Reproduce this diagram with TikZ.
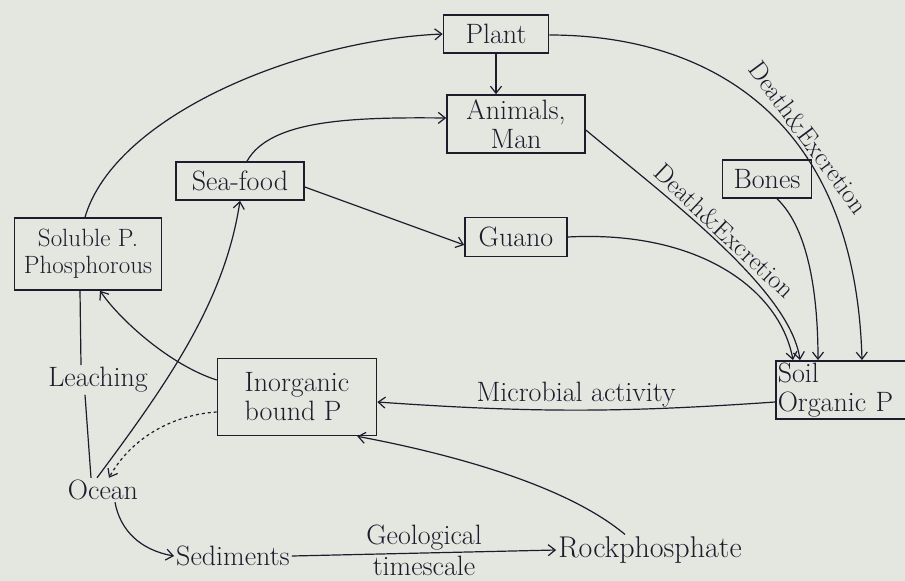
\documentclass[tikz,border=0pt]{standalone}
\usetikzlibrary{arrows.meta}
\definecolor{paper}{RGB}{228,230,224}
\definecolor{ink}{RGB}{28,28,44}
\begin{document}
\begin{tikzpicture}[x=1pt,y=-1pt,
    every node/.style={text=ink,font=\fontsize{28}{29}\selectfont},
    box/.style={draw=ink,line width=1.6pt,align=center,inner sep=3pt},
    free/.style={inner sep=2pt},
    flow/.style={draw=ink,line width=1.2pt,-{Straight Barb[length=7pt,width=11pt]}},
    slant/.style={sloped,above,inner sep=3pt,font=\fontsize{26}{27}\selectfont}]
  \fill[paper] (0,0) rectangle (905,581);
  \useasboundingbox (0,0) rectangle (905,581);
  % boxes
  \node[box,minimum width=105,minimum height=38] (plant) at (496,34) {Plant};
  \node[box,minimum width=138,minimum height=58] (animals) at (516,124) {Animals,\\Man};
  \node[box,minimum width=128,minimum height=38] (seafood) at (240,181) {Sea-food};
  \node[box,minimum width=89,minimum height=38] (bones) at (767,179) {Bones};
  \node[box,minimum width=102,minimum height=39] (guano) at (516,237) {Guano};
  \node[box,minimum width=147,minimum height=72,font=\fontsize{25}{27}\selectfont] (soluble) at (88,254) {Soluble P.\\Phosphorous};
  \node[box,minimum width=159,minimum height=77,align=left] (inorg) at (297,397) {Inorganic\\bound P};
  \node[box,anchor=west,text width=140,minimum height=56,align=left,inner sep=2pt] (soil) at (775,390) {Soil\\Organic P};
  % free labels
  \node[free] (leach) at (98,380) {Leaching};
  \node[free] (ocean) at (103,490) {Ocean};
  \node[free] (sed) at (233,556) {Sediments};
  \node[free,font=\fontsize{30}{31}\selectfont] (rock) at (650,550) {Rockphosphate};
  % flows
  \draw[flow] ([xshift=-3pt]soluble.north) .. controls (115,115) and (300,40) .. (plant.west);
  \draw[flow] ([xshift=7pt]seafood.north) .. controls (270,120) and (350,117) .. ([yshift=6pt]animals.west);
  \draw[flow] (plant.south) -- (plant.south |- animals.north);
  \draw[flow] ([yshift=-1pt]plant.east) .. controls (700,35) and (855,110) .. ([xshift=87pt]soil.north west)
    node[slant,pos=0.62]{Death\&Excretion};
  \draw[flow] ([yshift=-6pt]animals.east) .. controls (670,200) and (790,290) .. ([xshift=25pt]soil.north west)
    node[slant,pos=0.48]{Death\&Excretion};
  \draw[flow] ([xshift=10pt]bones.south) .. controls (810,230) and (818,300) .. ([xshift=43pt]soil.north west);
  \draw[flow] (guano.east) .. controls (700,230) and (780,290) .. ([xshift=18pt]soil.north west);
  \draw[flow] ([yshift=-6pt]seafood.east) -- ([yshift=-8pt]guano.west);
  \draw[flow] ([yshift=-12pt]soil.west) to[bend left=4] node[midway,above,free]{Microbial activity} ([yshift=-5pt]inorg.east);
  \draw[flow] ([yshift=17pt]inorg.west) .. controls (170,365) and (120,320) .. ([xshift=12pt]soluble.south);
  \draw[flow,dashed] ([yshift=-15pt]inorg.west) .. controls (170,415) and (130,440) .. ([xshift=6pt]ocean.north);
  \draw[flow] ([xshift=-6pt]ocean.north) .. controls (170,380) and (225,300) .. (seafood.south);
  \draw[ink,line width=1.2pt] ([xshift=-8pt]soluble.south) -- ([xshift=-17pt]leach.north);
  \draw[ink,line width=1.2pt] ([xshift=-13pt]leach.south) -- ([xshift=-12pt]ocean.north);
  \draw[flow] ([xshift=12pt]ocean.south) .. controls (120,530) and (140,550) .. (sed.west);
  \draw[flow] (sed.east) -- (rock.west) node[midway,above,free]{Geological} node[midway,below,free]{timescale};
  \draw[flow] ([xshift=-25pt]rock.north) .. controls (560,480) and (430,450) .. ([xshift=-20pt]inorg.south east);
\end{tikzpicture}
\end{document}
